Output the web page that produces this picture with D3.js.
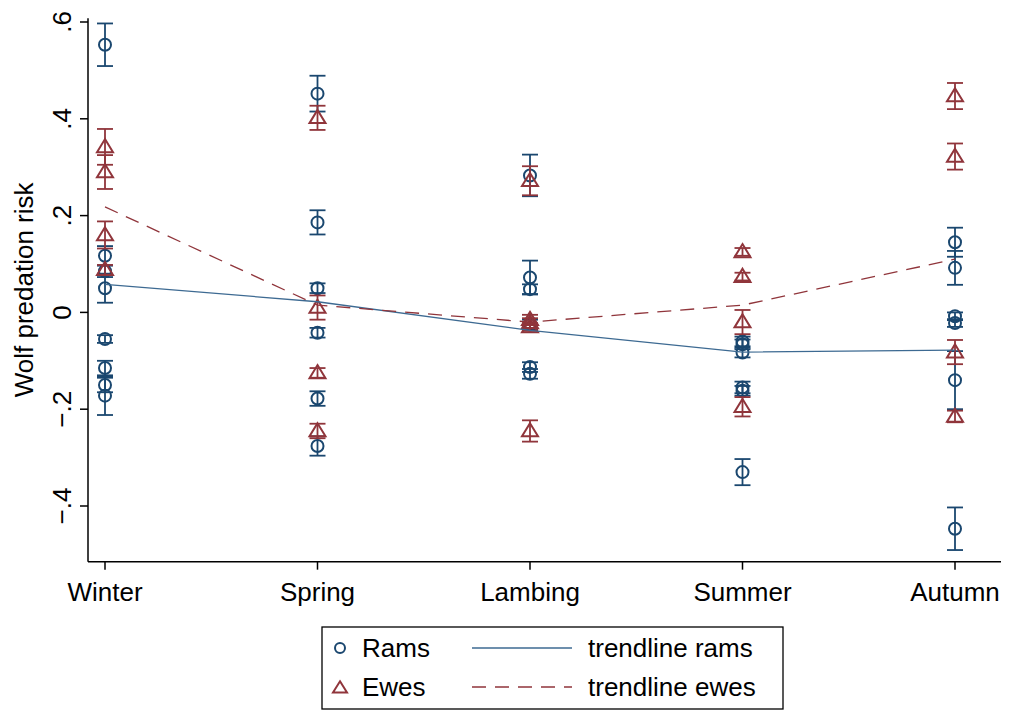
<!DOCTYPE html>
<html>
<head>
<meta charset="utf-8">
<script src="https://cdn.jsdelivr.net/npm/d3@7"></script>
<style>
  body { margin: 0; background: #fff; }
  svg { display: block; }
  text { font-family: "Liberation Sans", Arial, Helvetica, sans-serif; fill: #000; }
</style>
</head>
<body>
<svg id="chart" width="1021" height="711"></svg>
<script>
// ---- data ----
const seasons = ["Winter", "Spring", "Lambing", "Summer", "Autumn"];
const yTicks = [-0.4, -0.2, 0, 0.2, 0.4, 0.6];
const yTickLabels = ["\u2212.4", "\u2212.2", "0", ".2", ".4", ".6"];

const ramsSeason = ["Winter","Winter","Winter","Winter","Winter","Winter","Winter","Winter",
  "Spring","Spring","Spring","Spring","Spring","Spring",
  "Lambing","Lambing","Lambing","Lambing","Lambing","Lambing",
  "Summer","Summer","Summer","Summer","Summer","Summer",
  "Autumn","Autumn","Autumn","Autumn","Autumn","Autumn"];
const ramsValue = [0.553, 0.117, 0.085, 0.05, -0.055, -0.115, -0.15, -0.172,
  0.452, 0.186, 0.05, -0.042, -0.178, -0.276,
  0.283, 0.072, 0.048, -0.025, -0.113, -0.127,
  -0.06, -0.066, -0.083, -0.155, -0.162, -0.33,
  0.145, 0.092, -0.008, -0.022, -0.14, -0.447];
const ramsErr = [0.044, 0.02, 0.012, 0.03, 0.008, 0.015, 0.015, 0.04,
  0.037, 0.025, 0.01, 0.01, 0.015, 0.02,
  0.043, 0.035, 0.01, 0.01, 0.01, 0.01,
  0.01, 0.01, 0.01, 0.012, 0.01, 0.027,
  0.03, 0.035, 0.008, 0.008, 0.06, 0.044];

const ewesSeason = ["Winter","Winter","Winter","Winter",
  "Spring","Spring","Spring","Spring",
  "Lambing","Lambing","Lambing","Lambing","Lambing",
  "Summer","Summer","Summer","Summer",
  "Autumn","Autumn","Autumn","Autumn"];
const ewesValue = [0.342, 0.29, 0.16, 0.088,
  0.402, 0.01, -0.125, -0.245,
  0.272, -0.015, -0.022, -0.03, -0.245,
  0.125, 0.074, -0.02, -0.195,
  0.447, 0.322, -0.082, -0.215];
const ewesErr = [0.037, 0.035, 0.028, 0.01,
  0.025, 0.025, 0.01, 0.015,
  0.03, 0.01, 0.01, 0.008, 0.022,
  0.008, 0.008, 0.025, 0.02,
  0.027, 0.027, 0.025, 0.012];

const trendRams = [0.058, 0.022, -0.037, -0.082, -0.078];
const trendEwes = [0.218, 0.015, -0.02, 0.015, 0.11];

// ---- styling ----
const ramsColor = "#1a476f";
const ramsLineColor = "#3d6a92";
const ewesColor = "#90353b";

const svg = d3.select("#chart");

const x = d3.scalePoint().domain(seasons).range([105, 955]);
const y = d3.scaleLinear().domain([-0.4, 0.6]).range([506, 22]);

const axisLeftX = 88;
const yTop = y(0.608), yBottom = y(-0.515);

// y axis spine
svg.append("line")
  .attr("x1", axisLeftX).attr("x2", axisLeftX)
  .attr("y1", yTop).attr("y2", yBottom)
  .attr("stroke", "#000").attr("stroke-width", 1.5);

// y ticks
const yt = svg.append("g");
yTicks.forEach((t, i) => {
  yt.append("line")
    .attr("x1", axisLeftX - 8).attr("x2", axisLeftX)
    .attr("y1", y(t)).attr("y2", y(t))
    .attr("stroke", "#000").attr("stroke-width", 1.5);
  yt.append("text")
    .attr("transform", `translate(${axisLeftX - 17},${y(t)}) rotate(-90)`)
    .attr("text-anchor", "middle")
    .attr("font-size", 26)
    .text(yTickLabels[i]);
});

// y title
svg.append("text")
  .attr("transform", `translate(33,${(yTop + yBottom) / 2}) rotate(-90)`)
  .attr("text-anchor", "middle")
  .attr("font-size", 26)
  .text("Wolf predation risk");

// x axis
svg.append("line")
  .attr("x1", axisLeftX).attr("x2", 1001)
  .attr("y1", yBottom).attr("y2", yBottom)
  .attr("stroke", "#000").attr("stroke-width", 1.5);
seasons.forEach(s => {
  svg.append("line")
    .attr("x1", x(s)).attr("x2", x(s))
    .attr("y1", yBottom).attr("y2", yBottom + 8)
    .attr("stroke", "#000").attr("stroke-width", 1.5);
  svg.append("text")
    .attr("x", x(s)).attr("y", yBottom + 39)
    .attr("text-anchor", "middle")
    .attr("font-size", 26)
    .text(s);
});

const capW = 8;
function drawErr(g, xs, v, e, color) {
  const cx = x(xs);
  g.append("line").attr("x1", cx).attr("x2", cx)
    .attr("y1", y(v + e)).attr("y2", y(v - e))
    .attr("stroke", color).attr("stroke-width", 1.8);
  [v + e, v - e].forEach(b => {
    g.append("line").attr("x1", cx - capW).attr("x2", cx + capW)
      .attr("y1", y(b)).attr("y2", y(b))
      .attr("stroke", color).attr("stroke-width", 1.8);
  });
}

const triPath = (cx, cy, s) => {
  const h = s * 0.9;
  return `M${cx},${cy - h * 0.62}L${cx + s / 2 + 1},${cy + h * 0.42}L${cx - s / 2 - 1},${cy + h * 0.42}Z`;
};

// rams
const gR = svg.append("g");
ramsValue.forEach((v, i) => {
  drawErr(gR, ramsSeason[i], v, ramsErr[i], ramsColor);
});
ramsValue.forEach((v, i) => {
  gR.append("circle")
    .attr("cx", x(ramsSeason[i])).attr("cy", y(v)).attr("r", 6)
    .attr("fill", "none").attr("stroke", ramsColor).attr("stroke-width", 2);
});

// ewes
const gE = svg.append("g");
ewesValue.forEach((v, i) => {
  drawErr(gE, ewesSeason[i], v, ewesErr[i], ewesColor);
});
ewesValue.forEach((v, i) => {
  gE.append("path")
    .attr("d", triPath(x(ewesSeason[i]), y(v), 14))
    .attr("fill", "none").attr("stroke", ewesColor).attr("stroke-width", 2)
    .attr("stroke-linejoin", "miter");
});

// trendlines
const line = d3.line().x((d, i) => x(seasons[i])).y(d => y(d));
svg.append("path").datum(trendRams).attr("d", line)
  .attr("fill", "none").attr("stroke", ramsLineColor).attr("stroke-width", 1.3);
svg.append("path").datum(trendEwes).attr("d", line)
  .attr("fill", "none").attr("stroke", ewesColor).attr("stroke-width", 1.3)
  .attr("stroke-dasharray", "14,9");

// legend
const lg = svg.append("g");
lg.append("rect").attr("x", 322).attr("y", 627).attr("width", 461).attr("height", 82)
  .attr("fill", "#fff").attr("stroke", "#000").attr("stroke-width", 1.3);
lg.append("circle").attr("cx", 340).attr("cy", 648).attr("r", 5)
  .attr("fill", "none").attr("stroke", ramsColor).attr("stroke-width", 2);
lg.append("text").attr("x", 362).attr("y", 657).attr("font-size", 26).text("Rams");
lg.append("path").attr("d", triPath(340, 688, 12))
  .attr("fill", "none").attr("stroke", ewesColor).attr("stroke-width", 2);
lg.append("text").attr("x", 362).attr("y", 696).attr("font-size", 26).text("Ewes");
lg.append("line").attr("x1", 472).attr("x2", 572).attr("y1", 648).attr("y2", 648)
  .attr("stroke", ramsLineColor).attr("stroke-width", 1.3);
lg.append("line").attr("x1", 472).attr("x2", 572).attr("y1", 687).attr("y2", 687)
  .attr("stroke", ewesColor).attr("stroke-width", 1.3).attr("stroke-dasharray", "14,9");
lg.append("text").attr("x", 588).attr("y", 657).attr("font-size", 26).text("trendline rams");
lg.append("text").attr("x", 588).attr("y", 696).attr("font-size", 26).text("trendline ewes");
</script>
</body>
</html>
